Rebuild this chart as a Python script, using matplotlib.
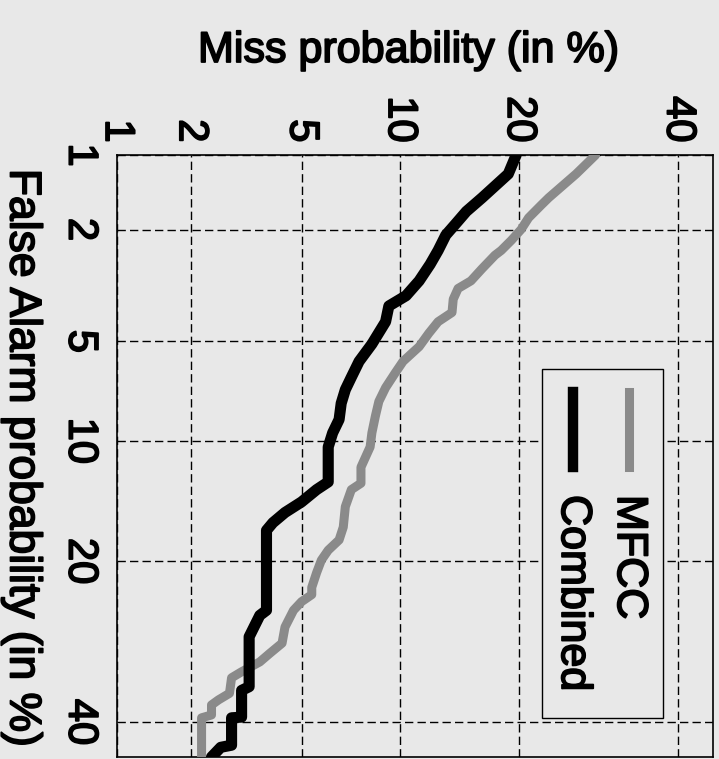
import matplotlib
matplotlib.use("Agg")
import matplotlib.pyplot as plt
import matplotlib.patheffects as pe
from matplotlib.lines import Line2D
from matplotlib.patches import Rectangle
from statistics import NormalDist
import numpy as np

# DET curves (in %)
fa_mfcc = [1.0, 1.2, 1.5, 1.6, 1.8, 2.0, 2.2, 2.4, 2.5, 2.8,
           3.1, 3.3, 3.6, 4.0, 4.3, 4.7, 5.2, 5.8, 6.3, 7.0,
           7.7, 8.5, 9.5, 10.4, 11.8, 13.0, 13.5, 14.9, 16.7, 17.9,
           18.9, 19.9, 21.2, 22.8, 23.6, 24.4, 25.4, 27.4, 29.4, 30.7,
           31.8, 33.1, 33.9, 36.0, 36.9, 37.6, 39.0, 39.4, 43.6, 45.0]
miss_mfcc = [28.8, 26.4, 23.2, 22.4, 21.0, 20.2, 19.2, 18.2, 17.6, 16.4,
             15.4, 14.3, 13.9, 13.8, 12.7, 12.0, 11.3, 10.2, 9.7, 9.1,
             8.7, 8.5, 8.3, 8.2, 7.7, 7.7, 7.2, 6.9, 6.8, 6.6,
             6.1, 5.8, 5.6, 5.4, 5.4, 5.0, 4.7, 4.4, 4.3, 3.9,
             3.6, 3.1, 2.85, 2.8, 2.55, 2.4, 2.4, 2.2, 2.2, 2.2]

fa_comb = [1.0, 1.2, 1.5, 1.7, 1.9, 2.1, 2.4, 2.7, 3.1, 3.5,
           3.8, 4.3, 5.1, 5.8, 6.5, 7.1, 7.8, 8.7, 9.5, 10.4,
           12.9, 13.5, 14.5, 15.4, 16.3, 17.0, 25.4, 26.0, 28.6, 35.1,
           35.6, 39.3, 39.4, 43.3, 43.6, 45.0]
miss_comb = [19.7, 18.9, 16.4, 15.0, 14.1, 13.3, 12.7, 12.1, 11.3, 10.4,
             9.3, 9.1, 8.3, 7.6, 7.2, 6.9, 6.7, 6.6, 6.3, 6.1,
             6.1, 5.6, 5.0, 4.4, 4.0, 3.8, 3.8, 3.6, 3.3, 3.3,
             3.1, 3.1, 2.85, 2.85, 2.6, 2.4]

tick_values = [1, 2, 5, 10, 20, 40]
tick_labels = ['1', '2', '5', '10', '20', '40']
axis_range = [1, 45]

_nd = NormalDist()


def probit(pct):
    # normal deviate scale used by DET plots
    return np.array([_nd.inv_cdf(p / 100.0) for p in np.atleast_1d(pct)])


W, H = 719, 759
bg = '#e8e8e8'
gray = '#8a8a8a'
# scanned text looks heavier than plain Arial
thick = [pe.withStroke(linewidth=1.3, foreground='black')]


def fx(px):
    return px / W


def fy(py):
    return 1 - py / H


plt.rcParams['font.family'] = ['Liberation Sans', 'DejaVu Sans']

fig = plt.figure(figsize=(W / 100, H / 100), dpi=100, facecolor=bg)
ax = fig.add_axes([fx(117), fy(757), fx(713) - fx(117), fy(155) - fy(757)])
ax.set_facecolor(bg)

# the scan is rotated: miss probability runs left->right, false alarm top->bottom
ax.plot(probit(miss_mfcc), probit(fa_mfcc), color=gray, lw=6.5,
        solid_joinstyle='round', solid_capstyle='round', zorder=3)
ax.plot(probit(miss_comb), probit(fa_comb), color='black', lw=8,
        solid_joinstyle='round', solid_capstyle='round', zorder=4)

ax.set_xlim(probit(axis_range[0])[0], probit(axis_range[1])[0])
ax.set_ylim(probit(axis_range[1])[0], probit(axis_range[0])[0])

ax.xaxis.tick_top()
ax.set_xticks(probit(tick_values))
ax.set_xticklabels(tick_labels, rotation=-90, fontsize=30, path_effects=thick)
ax.set_yticks(probit(tick_values))
ax.set_yticklabels(tick_labels, rotation=-90, fontsize=30, va='center',
                   path_effects=thick)
ax.tick_params(length=0)
ax.tick_params(axis='x', pad=9)
ax.tick_params(axis='y', pad=12)

ax.grid(True, color='black', linestyle=(0, (6, 3)), linewidth=1, zorder=1)
ax.set_axisbelow(True)
for s in ax.spines.values():
    s.set_linewidth(1.2)
    s.set_color('black')

fig.text(fx(408), fy(62), 'Miss probability (in %)', fontsize=31,
         ha='center', va='baseline', path_effects=thick)
fig.text(fx(22), fy(458), 'False Alarm probability (in %)', fontsize=32,
         rotation=-90, ha='center', va='center', path_effects=thick)

# rotated legend, drawn by hand
fig.add_artist(Rectangle((fx(542), fy(718)), fx(663) - fx(542), fy(369) - fy(718),
                         transform=fig.transFigure, facecolor=bg,
                         edgecolor='black', lw=1, zorder=5))
legend_items = [('MFCC', gray, 6.5, 629), ('Combined', 'black', 7.5, 573)]
for name, col, lw, xp in legend_items:
    fig.add_artist(Line2D([fx(xp), fx(xp)], [fy(392), fy(467)], color=col,
                          lw=lw, transform=fig.transFigure, zorder=6))
    fig.text(fx(xp), fy(495), name, fontsize=31, rotation=-90,
             rotation_mode='anchor', ha='left', va='center', zorder=6,
             path_effects=thick)

fig.savefig('out.png', dpi=100, facecolor=bg)
